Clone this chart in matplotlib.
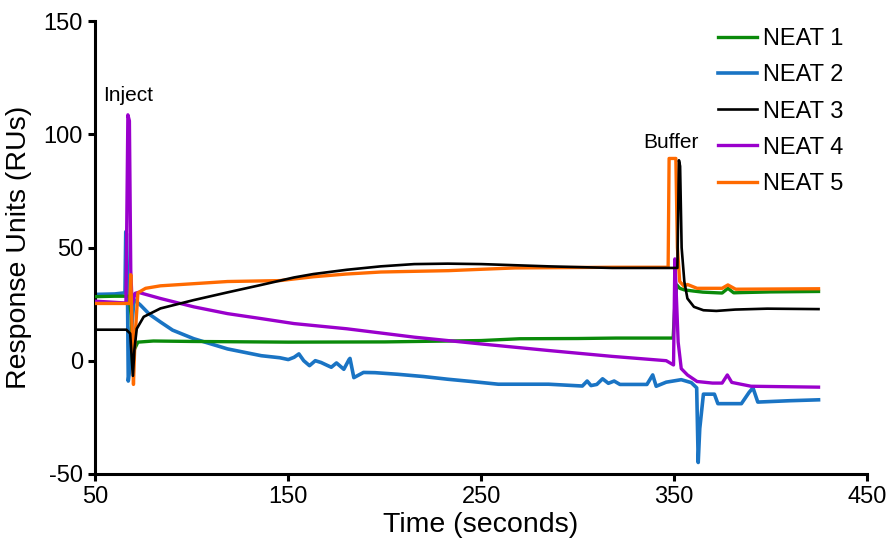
#SPR sensorgram - NEAT 1-5
import matplotlib
matplotlib.use("Agg")
import matplotlib.pyplot as plt

plt.rcParams['font.family'] = ['Liberation Sans', 'DejaVu Sans']
plt.rcParams['axes.unicode_minus'] = False

labels = ['NEAT 1', 'NEAT 2', 'NEAT 3', 'NEAT 4', 'NEAT 5']
colors = ['#0a8a0a', '#1a74c4', '#000000', '#9a00cc', '#ff6a00']

# time (s) / response (RU)
t1 = [50, 60, 67.5, 68.5, 69.3, 70.2, 72, 80, 100, 150, 200, 250, 270, 300, 320, 346,
      349.6, 350.5, 351.5, 353, 355.4, 360, 365, 375, 378, 381, 385, 400, 425]
y1 = [28.3, 28.5, 28.5, 20, -3.7, 5, 8.2, 8.7, 8.5, 8.2, 8.3, 8.9, 9.7, 9.8, 10, 10,
      10, 25, 33.5, 32, 31.3, 30.8, 30.3, 29.9, 32, 30, 30.1, 30.4, 30.6]

t2 = [50, 60, 65.3, 65.7, 66.1, 66.5, 67, 67.6, 68.3, 70, 73.3, 78, 83.7, 90, 101, 118.5, 136,
      145.6, 150, 153, 155.5, 158, 161, 164, 167, 170, 172.3, 175, 178.8, 181.5, 182, 184,
      189, 195, 206.6, 220, 232.7, 245, 258.9, 285, 302.5, 305, 307, 310, 313, 316, 319,
      322, 336, 339, 340.8, 346, 353.8, 359, 361.8, 362.6, 363.4, 365.3, 371, 372.8, 385,
      389, 391, 393.5, 410, 425]
y2 = [29.3, 29.5, 30, 57, 56, 40, -9, -5, 10, 27, 24.6, 20.5, 17.1, 13.5, 9.7, 5.2, 2.2,
      1.3, 0.5, 1.5, 3, 0, -2.2, 0, -0.8, -2, -2.9, -1, -3.8, 0.5, 1, -7.5,
      -5.2, -5.3, -6, -7, -8.2, -9.2, -10.4, -10.4, -11.2, -9, -11, -10.5, -8, -10, -9,
      -10.5, -10.5, -6.3, -11.3, -9.5, -8.4, -9.7, -12, -45, -30, -14.8, -14.8, -19, -19,
      -14, -12, -18.3, -17.7, -17.3]

t3 = [50, 60, 66, 68, 69.4, 70.2, 71.4, 75, 83.7, 101, 118.5, 136, 153, 163, 180.4, 197.9,
      215.3, 232.7, 250.2, 267.6, 285, 318, 346, 351.8, 352.6, 353.2, 354, 355.4, 357,
      360.4, 365.3, 372, 381.8, 398.4, 425]
y3 = [13.7, 13.7, 13.7, 12, -6.7, 5, 14.1, 19.4, 23.1, 26.8, 30.2, 33.5, 36.8, 38.3, 40.2, 41.7,
      42.7, 42.9, 42.7, 42.2, 41.7, 41, 41, 41, 88.6, 86, 50, 35, 27.5,
      23.8, 22.3, 22, 22.6, 23, 22.8]

t4 = [50, 60, 65.8, 66.8, 67.6, 68.3, 69, 70.6, 72.3, 83.7, 101, 118.5, 136, 153, 180.4,
      215.3, 250, 285, 318, 346, 349.8, 350.5, 351.2, 352.2, 353.8, 357, 362, 370, 375,
      377.7, 380, 390, 425]
y4 = [26.3, 25.8, 25.5, 108.7, 106, 40, 25, 29.8, 30.2, 27.5, 23.8, 20.8, 18.6, 16.4, 14.1,
      10.4, 7.4, 4.5, 1.9, 0, -1.9, 45, 30, 8.2, -3.5, -6.3, -9.2, -9.9, -9.9,
      -6.3, -9.6, -11.3, -11.7]

t5 = [50, 60, 67.8, 68.3, 68.8, 69.7, 70.5, 72, 76, 83.7, 118.5, 145.6, 163, 180, 198, 215,
      233, 250, 267.6, 318, 347, 347.5, 351, 351.8, 353, 355.4, 357, 362, 375, 378, 382, 425]
y5 = [25.3, 25.3, 25.3, 38, 20, -10.5, 10, 30, 32, 33.1, 35, 35.4, 37.1, 38.3, 39.2, 39.5,
      39.8, 40.4, 41, 41.3, 41.3, 89.4, 89.4, 50, 35, 32.8, 33.7, 32, 32, 33.5, 31.6, 31.8]

times = [t1, t2, t3, t4, t5]
values = [y1, y2, y3, y4, y5]
widths = [2.4, 2.6, 1.9, 2.4, 2.4]
zorders = [3, 2, 6, 4, 5]

fig = plt.figure(figsize=(8.94, 5.57), dpi=100)
ax = fig.add_axes([0.1068, 0.1494, 0.9695 - 0.1068, 0.9616 - 0.1494])

for t, y, c, lab, lw, z in zip(times, values, colors, labels, widths, zorders):
    ax.plot(t, y, color=c, lw=lw, label=lab, zorder=z, solid_joinstyle='round')

ax.set_xlim(50, 450)
ax.set_ylim(-50, 150)
ax.set_xticks([50, 150, 250, 350, 450])
ax.set_yticks([-50, 0, 50, 100, 150])
ax.spines['top'].set_visible(False)
ax.spines['right'].set_visible(False)
for s in ['left', 'bottom']:
    ax.spines[s].set_linewidth(2.2)
ax.tick_params(width=2.2, length=5, labelsize=17, pad=4)

ax.set_xlabel("Time (seconds)", fontsize=20.5, labelpad=3)
ax.set_ylabel("Response Units (RUs)", fontsize=20.5, labelpad=8)

ax.text(67, 114.7, "Inject", fontsize=15, ha='center', va='baseline')
ax.text(348.5, 93.9, "Buffer", fontsize=15, ha='center', va='baseline')

ax.legend(loc='upper left', bbox_to_anchor=(0.807, 0.985), frameon=False, fontsize=17,
          handlelength=1.65, handletextpad=0.25, labelspacing=0.6,
          borderaxespad=0, borderpad=0)

plt.savefig("out.png", dpi=100)
